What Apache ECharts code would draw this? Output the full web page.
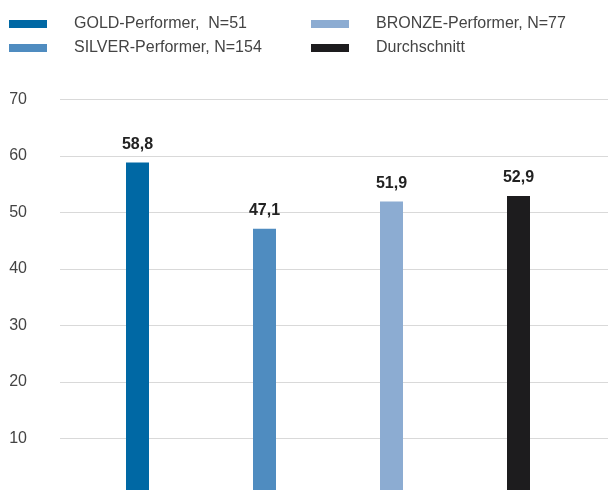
<!DOCTYPE html>
<html>
<head>
<meta charset="utf-8">
<script src="https://cdn.jsdelivr.net/npm/echarts@6/dist/echarts.min.js"></script>
<style>
  html, body { margin: 0; padding: 0; background: #ffffff; }
  #chart { width: 608px; height: 490px; }
</style>
</head>
<body>
<div id="chart"></div>
<script>
// Performer groups and their mean score
const categories = ['GOLD', 'SILVER', 'BRONZE', 'Durchschnitt'];
const seriesNames = ['GOLD-Performer,  N=51', 'SILVER-Performer, N=154', 'BRONZE-Performer, N=77', 'Durchschnitt'];
const values = [58.8, 47.1, 51.9, 52.9];
const colors = ['#0068a4', '#4f8cc0', '#8cacd2', '#1d1c1e'];
const yTicks = [0, 10, 20, 30, 40, 50, 60, 70];

const FONT = '"Liberation Sans", Arial, Helvetica, sans-serif';
const yMin = yTicks[0];
const yMax = yTicks[yTicks.length - 1];
const yStep = yTicks[1] - yTicks[0];

// plot area: the zero line sits just below the bottom edge of the canvas
const PLOT_TOP = 99.3;
const PLOT_HEIGHT = 395.5;

// one series per group, stacked so each bar sits centred in its own category
const series = values.map((v, i) => ({
  name: seriesNames[i],
  type: 'bar',
  stack: 'groups',
  xAxisIndex: 0,
  yAxisIndex: 0,
  barWidth: 23,
  itemStyle: { color: colors[i] },
  label: {
    show: true,
    position: 'top',
    distance: 10,
    formatter: p => String(p.value).replace('.', ','),
    fontFamily: FONT,
    fontSize: 16,
    fontWeight: 'bold',
    color: '#222222'
  },
  data: values.map((_, j) => (j === i ? v : '-'))
}));

const legendCommon = {
  top: 11,
  orient: 'vertical',
  itemWidth: 38, itemHeight: 8, itemGap: 8,
  icon: 'rect',
  textStyle: { fontFamily: FONT, fontSize: 16, color: '#444444', padding: [0, 0, 0, 22] }
};

const chart = echarts.init(document.getElementById('chart'), null, { renderer: 'canvas' });
chart.setOption({
  animation: false,
  backgroundColor: '#ffffff',
  legend: [
    Object.assign({ left: 4, data: [seriesNames[0], seriesNames[1]] }, legendCommon),
    Object.assign({ left: 306, data: [seriesNames[2], seriesNames[3]] }, legendCommon)
  ],
  grid: [
    // plotting area for the bars
    { left: 74, right: 26, top: PLOT_TOP, height: PLOT_HEIGHT, outerBoundsMode: 'none', containLabel: false },
    // full-width area carrying the horizontal rules and tick labels
    { left: 60, right: 0, top: PLOT_TOP, height: PLOT_HEIGHT, outerBoundsMode: 'none', containLabel: false }
  ],
  xAxis: [
    {
      type: 'category', gridIndex: 0, data: categories,
      axisLine: { show: false }, axisTick: { show: false }, axisLabel: { show: false }
    },
    {
      type: 'value', gridIndex: 1, min: 0, max: 1,
      axisLine: { show: false }, axisTick: { show: false }, axisLabel: { show: false }, splitLine: { show: false }
    }
  ],
  yAxis: [
    {
      type: 'value', gridIndex: 0, min: yMin, max: yMax, interval: yStep,
      axisLine: { show: false }, axisTick: { show: false }, axisLabel: { show: false }, splitLine: { show: false }
    },
    {
      type: 'value', gridIndex: 1, min: yMin, max: yMax, interval: yStep,
      axisLine: { show: false }, axisTick: { show: false },
      axisLabel: {
        margin: 33,
        fontFamily: FONT, fontSize: 16, color: '#444444',
        formatter: v => (v === 0 ? '' : String(v))
      },
      splitLine: { show: true, lineStyle: { color: '#d9d9d9', width: 1 } }
    }
  ],
  series: series
});
</script>
</body>
</html>
